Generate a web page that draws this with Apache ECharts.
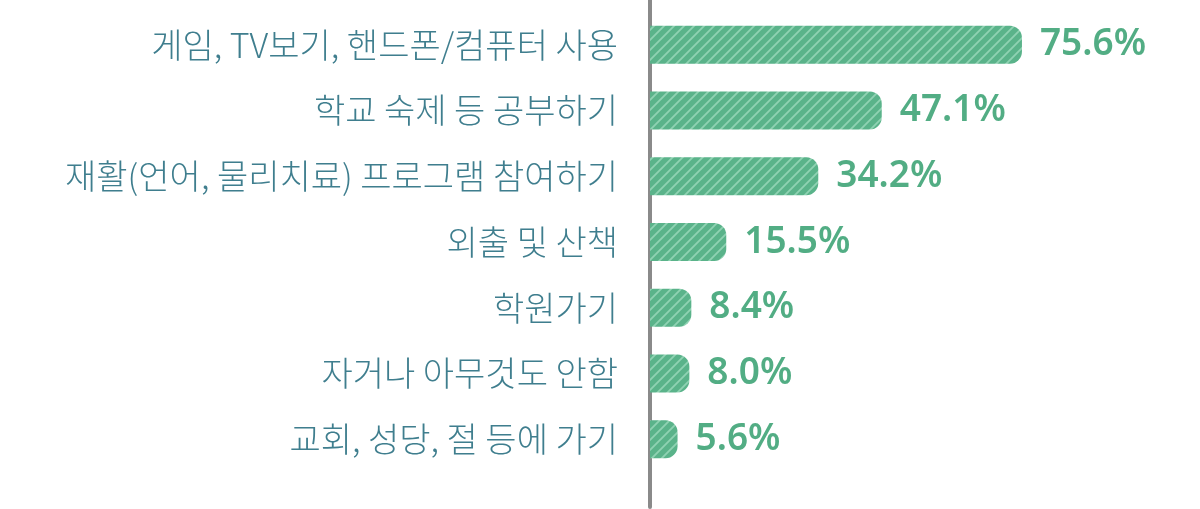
<!DOCTYPE html>
<html>
<head>
<meta charset="utf-8">
<script src="https://cdn.jsdelivr.net/npm/echarts@6/dist/echarts.min.js"></script>
<style>
html,body{margin:0;padding:0;background:#fff;}
#c{width:1200px;height:509px;}
</style>
</head>
<body>
<div id="c"></div>
<script>
var categories = [
  '게임, TV보기, 핸드폰/컴퓨터 사용',
  '학교 숙제 등 공부하기',
  '재활(언어, 물리치료) 프로그램 참여하기',
  '외출 및 산책',
  '학원가기',
  '자거나 아무것도 안함',
  '교회, 성당, 절 등에 가기'
];
var values = [75.6, 47.1, 34.2, 15.5, 8.4, 8.0, 5.6];

function makePattern() {
  var s = 10;
  var cv = document.createElement('canvas');
  cv.width = s; cv.height = s;
  var ctx = cv.getContext('2d');
  ctx.fillStyle = '#5ab38a';
  ctx.fillRect(0, 0, s, s);
  ctx.strokeStyle = '#8fd2b2';
  ctx.lineWidth = 1.8;
  ctx.beginPath();
  ctx.moveTo(-1, s + 1); ctx.lineTo(s + 1, -1);
  ctx.moveTo(-1, 1); ctx.lineTo(1, -1);
  ctx.moveTo(s - 1, s + 1); ctx.lineTo(s + 1, s - 1);
  ctx.stroke();
  return cv;
}

var chart = echarts.init(document.getElementById('c'), null, {renderer: 'canvas'});
chart.setOption({
  animation: false,
  grid: [
    {left: 650, right: 58, top: 12, bottom: 37, containLabel: false},
    {left: 650, right: 58, top: 0, bottom: 2, containLabel: false}
  ],
  xAxis: [
    {type: 'value', gridIndex: 0, min: 0, max: 100, show: false},
    {type: 'value', gridIndex: 1, min: 0, max: 100, show: false}
  ],
  yAxis: [
    {
      type: 'category', gridIndex: 0, data: categories, inverse: true,
      axisLine: {show: false}, axisTick: {show: false},
      axisLabel: {
        margin: 32, color: '#3f7e8e', fontSize: 34,
        fontFamily: 'Noto Sans CJK KR', fontWeight: 300
      }
    },
    {
      type: 'value', gridIndex: 1, min: 0, max: 1,
      axisLine: {show: true, lineStyle: {color: '#8a8a8a', width: 4}},
      axisTick: {show: false}, axisLabel: {show: false}, splitLine: {show: false}
    }
  ],
  series: [{
    type: 'bar',
    xAxisIndex: 0, yAxisIndex: 0,
    data: values,
    barWidth: 38,
    itemStyle: {
      color: {image: makePattern(), repeat: 'repeat'},
      borderRadius: [0, 12, 12, 0]
    },
    label: {
      show: true, position: 'right', distance: 18,
      formatter: function (p) { return p.value.toFixed(1) + '%'; },
      color: '#52ad84', fontSize: 37, fontWeight: 600,
      fontFamily: 'Noto Sans'
    }
  }]
});
</script>
</body>
</html>
